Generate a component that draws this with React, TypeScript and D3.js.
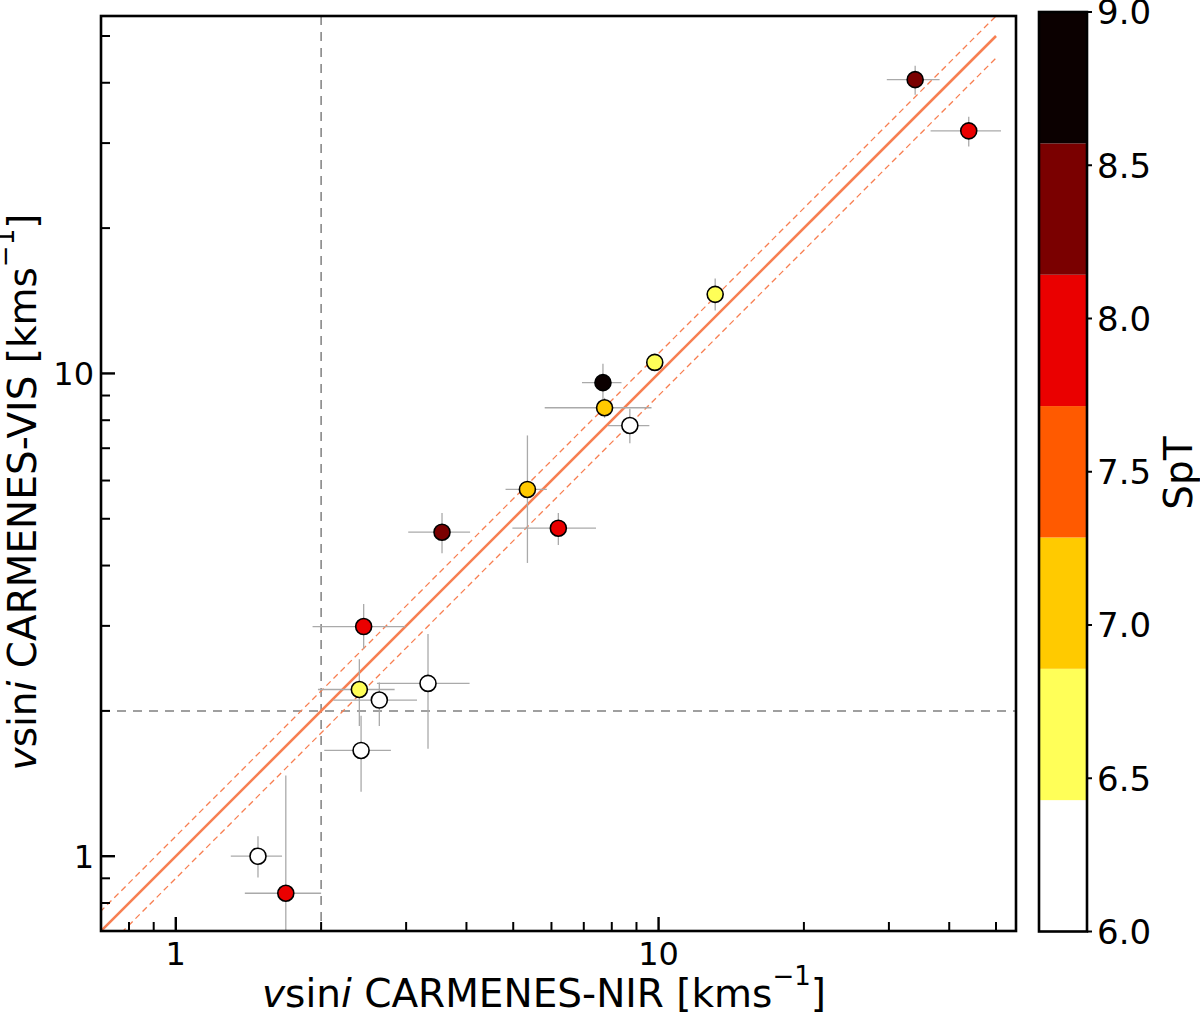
import { useMemo } from "react";
import * as d3 from "d3";

// vsini NIR (x) vs VIS (y), km/s, with error ranges
const NIR_V  = [2.45, 1.69, 2.40, 2.64, 3.33, 2.42, 1.48, 3.56, 5.35, 6.20, 7.67, 7.73, 8.72, 9.82, 13.1, 34.0, 43.9];
const NIR_LO = [1.92, 1.39, 1.97, 2.12, 2.61, 2.03, 1.30, 3.03, 4.82, 4.98, 6.94, 5.81, 7.85, 9.55, 12.8, 29.7, 36.6];
const NIR_HI = [2.99, 2.00, 2.84, 3.16, 4.06, 2.79, 1.66, 4.07, 5.87, 7.42, 8.38, 9.67, 9.57, 10.1, 13.4, 38.2, 51.2];
const VIS_V  = [2.99, 0.838, 2.215, 2.106, 2.28, 1.656, 1.00, 4.69, 5.75, 4.78, 9.57, 8.49, 7.80, 10.54, 14.58, 40.6, 31.8];
const VIS_LO = [2.69, 0.20, 1.86, 1.86, 1.67, 1.36, 0.903, 4.24, 4.05, 4.41, 8.67, 8.09, 7.17, 10.25, 13.5, 37.8, 29.5];
const VIS_HI = [3.33, 1.47, 2.56, 2.29, 2.885, 1.954, 1.10, 5.14, 7.44, 5.14, 10.47, 8.90, 8.45, 10.85, 15.72, 43.4, 34.0];
const SPT    = [8.0, 8.0, 6.5, 6.0, 6.0, 6.0, 6.0, 8.5, 7.0, 8.0, 9.0, 7.0, 6.0, 6.5, 6.5, 8.5, 8.0];

// hot_r split into 7 bins between SpT 6 and 9
const BIN_COLORS = ["#ffffff", "#ffff58", "#ffca00", "#ff5a00", "#ea0000", "#7a0000", "#0b0000"];
const CB_TICKS = [6.0, 6.5, 7.0, 7.5, 8.0, 8.5, 9.0];
const MAJOR_TICKS = [1, 10];
const DOMAIN = [0.7, 55];
const LINE_END = 50;   // 1:1 line and ±10% band drawn up to here
const BAND = [0.9, 1.1];
const CUT = 2;         // dashed gray limits

const AX = { left: 101, right: 1016, top: 16, bottom: 931 };
const CB = { left: 1039, right: 1087, top: 12, bottom: 931.5 };
const CORAL = "#f77f52";
const FONT = "DejaVu Sans";

export default function App() {
  const x = d3.scaleLog().domain(DOMAIN).range([AX.left, AX.right]);
  const y = d3.scaleLog().domain(DOMAIN).range([AX.bottom, AX.top]);
  const cb = d3.scaleLinear().domain([6, 9]).range([CB.bottom, CB.top]);
  const binColor = d3.scaleQuantize<string>().domain([6, 9]).range(BIN_COLORS);

  const minorX = x.ticks().filter((t) => !MAJOR_TICKS.includes(t));
  const minorY = y.ticks().filter((t) => !MAJOR_TICKS.includes(t));

  const pts = useMemo(
    () => NIR_V.map((v, i) => ({
      x: v, y: VIS_V[i],
      xlo: NIR_LO[i], xhi: NIR_HI[i],
      ylo: VIS_LO[i], yhi: VIS_HI[i],
      spt: SPT[i],
    })),
    [],
  );

  const diag = (k: number) => {
    const line = d3.line<number>().x((d) => x(d)).y((d) => y(d * k));
    return line([0.3, LINE_END]) || "";
  };

  const binW = 3 / BIN_COLORS.length;

  return (
    <div style={{ position: "absolute", left: 0, top: 0 }}>
      <svg width={1200} height={1016} fontFamily={FONT} style={{ display: "block", background: "#fff" }}>
        <defs>
          <clipPath id="axclip">
            <rect x={AX.left} y={AX.top} width={AX.right - AX.left} height={AX.bottom - AX.top} />
          </clipPath>
        </defs>

        <g clipPath="url(#axclip)">
          {/* gray limit lines */}
          <line x1={x(CUT)} x2={x(CUT)} y1={AX.top} y2={AX.bottom}
            stroke="#808080" strokeWidth={1.5} strokeDasharray="9,7" />
          <line x1={AX.left} x2={AX.right} y1={y(CUT)} y2={y(CUT)}
            stroke="#808080" strokeWidth={1.5} strokeDasharray="9,7" />

          {/* 1:1 line and ±10% */}
          <path d={diag(1)} stroke={CORAL} strokeWidth={2.6} fill="none" />
          {BAND.map((k) => (
            <path key={k} d={diag(k)} stroke={CORAL} strokeWidth={1.3} fill="none" strokeDasharray="6,4" />
          ))}

          {/* error bars */}
          {pts.map((p, i) => (
            <g key={"e" + i} stroke="#aaaaaa" strokeWidth={1.3}>
              <line x1={x(p.xlo)} x2={x(p.xhi)} y1={y(p.y)} y2={y(p.y)} />
              <line x1={x(p.x)} x2={x(p.x)} y1={y(p.ylo)} y2={y(p.yhi)} />
            </g>
          ))}

          {/* points */}
          {pts.map((p, i) => (
            <circle key={"p" + i} cx={x(p.x)} cy={y(p.y)} r={8}
              fill={binColor(p.spt)} stroke="#000" strokeWidth={1.6} />
          ))}
        </g>

        {/* ticks, inward, bottom + left */}
        <g stroke="#000">
          {MAJOR_TICKS.map((t) => (
            <g key={"mx" + t} strokeWidth={2.4}>
              <line x1={x(t)} x2={x(t)} y1={AX.bottom} y2={AX.bottom - 14} />
              <line x1={AX.left} x2={AX.left + 14} y1={y(t)} y2={y(t)} />
            </g>
          ))}
          {minorX.map((t) => (
            <line key={"nx" + t} x1={x(t)} x2={x(t)} y1={AX.bottom} y2={AX.bottom - 9} strokeWidth={2} />
          ))}
          {minorY.map((t) => (
            <line key={"ny" + t} x1={AX.left} x2={AX.left + 9} y1={y(t)} y2={y(t)} strokeWidth={2} />
          ))}
        </g>

        {/* frame */}
        <rect x={AX.left} y={AX.top} width={AX.right - AX.left} height={AX.bottom - AX.top}
          fill="none" stroke="#000" strokeWidth={2.6} />

        {/* tick labels */}
        {MAJOR_TICKS.map((t) => (
          <g key={"lab" + t} fontSize={32} fill="#000">
            <text x={x(t)} y={965} textAnchor="middle">{t}</text>
            <text x={94} y={y(t) + 11.7} textAnchor="end">{t}</text>
          </g>
        ))}

        {/* axis labels */}
        <text x={544} y={1007} fontSize={39} textAnchor="middle">
          <tspan fontStyle="italic">v</tspan>sin<tspan fontStyle="italic">i</tspan> CARMENES-NIR [kms
          <tspan fontSize={26} dy={-22}>−1</tspan><tspan dy={22}>]</tspan>
        </text>
        <text transform="translate(36,492) rotate(-90)" fontSize={39} textAnchor="middle">
          <tspan fontStyle="italic">v</tspan>sin<tspan fontStyle="italic">i</tspan> CARMENES-VIS [kms
          <tspan fontSize={26} dy={-22}>−1</tspan><tspan dy={22}>]</tspan>
        </text>

        {/* colorbar */}
        {BIN_COLORS.map((c, i) => {
          const v0 = 6 + i * binW;
          return (
            <rect key={c} x={CB.left} y={cb(v0 + binW)} width={CB.right - CB.left}
              height={cb(v0) - cb(v0 + binW)} fill={c} />
          );
        })}
        <rect x={CB.left} y={CB.top} width={CB.right - CB.left} height={CB.bottom - CB.top}
          fill="none" stroke="#000" strokeWidth={2.6} />
        {CB_TICKS.map((t) => (
          <g key={"cb" + t}>
            <line x1={CB.right} x2={CB.right + 5} y1={cb(t)} y2={cb(t)} stroke="#000" strokeWidth={2} />
            <text x={1097} y={cb(t) + 12.4} fontSize={34}>{t.toFixed(1)}</text>
          </g>
        ))}
        <text transform="translate(1192,473) rotate(-90)" fontSize={39} textAnchor="middle">SpT</text>
      </svg>
    </div>
  );
}
